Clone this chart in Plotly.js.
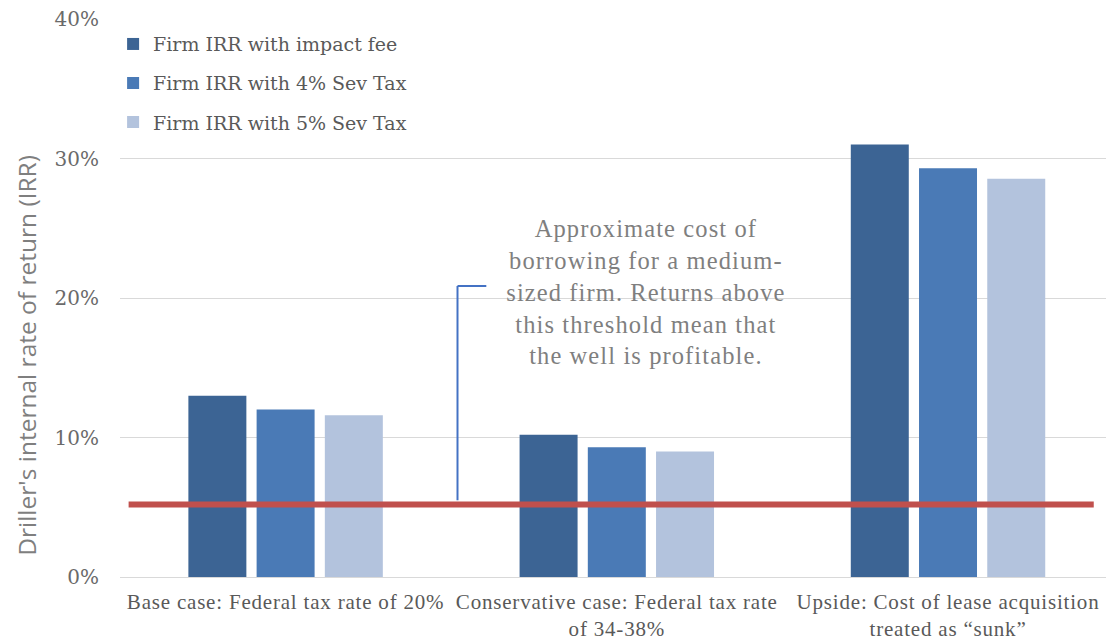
<!DOCTYPE html>
<html>
<head>
<meta charset="utf-8">
<script src="https://cdn.plot.ly/plotly-3.0.1.min.js"></script>
<style>
html,body{margin:0;padding:0;background:#fff;}
#chart{width:1106px;height:642px;}
#chart .xtick text{letter-spacing:0.8px;}
#chart g.annotation[data-index="0"] text{letter-spacing:1.1px;}
</style>
</head>
<body>
<div id="chart"></div>
<script>
const categories = ["Base case: Federal tax rate of 20%", "Conservative case: Federal tax rate<br>of 34-38%", "Upside: Cost of lease acquisition<br>treated as \u201csunk\u201d"];
const seriesNames = ["Firm IRR with impact fee", "Firm IRR with 4% Sev Tax", "Firm IRR with 5% Sev Tax"];
const impactFee = [0.130, 0.102, 0.310];
const sevTax4 = [0.120, 0.093, 0.293];
const sevTax5 = [0.116, 0.090, 0.2855];
const threshold = 0.052;
const annotationText = "Approximate cost of<br>borrowing for a medium-<br>sized firm. Returns above<br>this threshold mean that<br>the well is profitable.";
const yTitle = "Driller's internal rate of return (IRR)";

const colors = ["#3C6494", "#4A7AB6", "#B3C3DD"];
const xIdx = [0, 1, 2];
const values = [impactFee, sevTax4, sevTax5];
const legends = ["legend", "legend2", "legend3"];

const traces = values.map((v, i) => ({
  type: "bar", x: xIdx, y: v, name: seriesNames[i],
  marker: {color: colors[i]}, legend: legends[i], hoverinfo: "skip"
}));

const legendFont = {family: "DejaVu Serif", size: 19, color: "#595959"};
function leg(y) {
  return {x: -0.007, y: y, xref: "paper", yref: "paper", xanchor: "left", yanchor: "middle",
    bgcolor: "rgba(0,0,0,0)", font: legendFont, itemwidth: 30};
}

const layout = {
  width: 1106, height: 642,
  margin: {l: 120, r: 0, t: 19, b: 65},
  paper_bgcolor: "#fff", plot_bgcolor: "#fff",
  barmode: "group", bargap: 0.382, bargroupgap: 0.15,
  showlegend: true,
  legend: leg(0.955), legend2: leg(0.885), legend3: leg(0.815),
  xaxis: {
    range: [-0.5, 2.477], tickvals: xIdx, ticktext: categories,
    showgrid: false, zeroline: false, showline: false, ticks: "",
    ticklabelstandoff: 10,
    tickfont: {family: "Liberation Serif", size: 21, color: "#595959"},
    fixedrange: true
  },
  yaxis: {
    range: [0, 0.4], dtick: 0.1, tickformat: ".0%",
    showgrid: true, gridcolor: "#D9D9D9", gridwidth: 1,
    zeroline: true, zerolinecolor: "#D9D9D9", zerolinewidth: 1,
    showline: false, ticks: "", ticklabelstandoff: 20,
    tickfont: {family: "DejaVu Serif", size: 20, color: "#6A6A6A"},
    fixedrange: true
  },
  shapes: [
    {type: "line", xref: "x", yref: "y", x0: -0.474, x1: 2.44, y0: threshold, y1: threshold,
      line: {color: "#C0504D", width: 6}},
    {type: "line", xref: "x", yref: "y", x0: 0.519, x1: 0.519, y0: threshold + 0.003, y1: 0.2086,
      line: {color: "#4472C4", width: 2}},
    {type: "line", xref: "x", yref: "y", x0: 0.519, x1: 0.606, y0: 0.2086, y1: 0.2086,
      line: {color: "#4472C4", width: 2}}
  ],
  annotations: [
    {xref: "x", yref: "y", x: 1.089, y: 0.204, text: annotationText, showarrow: false,
      align: "center", xanchor: "center", yanchor: "middle",
      font: {family: "Liberation Serif", size: 24.5, color: "#7F7F7F"}},
    {xref: "paper", yref: "paper", x: -0.095, xanchor: "center", y: 0.397, yanchor: "middle",
      text: yTitle, showarrow: false, textangle: -90,
      font: {family: "Open Sans", size: 24.5, color: "#7F7F7F"}}
  ]
};

Plotly.newPlot("chart", traces, layout, {staticPlot: true, displayModeBar: false});
</script>
</body>
</html>
